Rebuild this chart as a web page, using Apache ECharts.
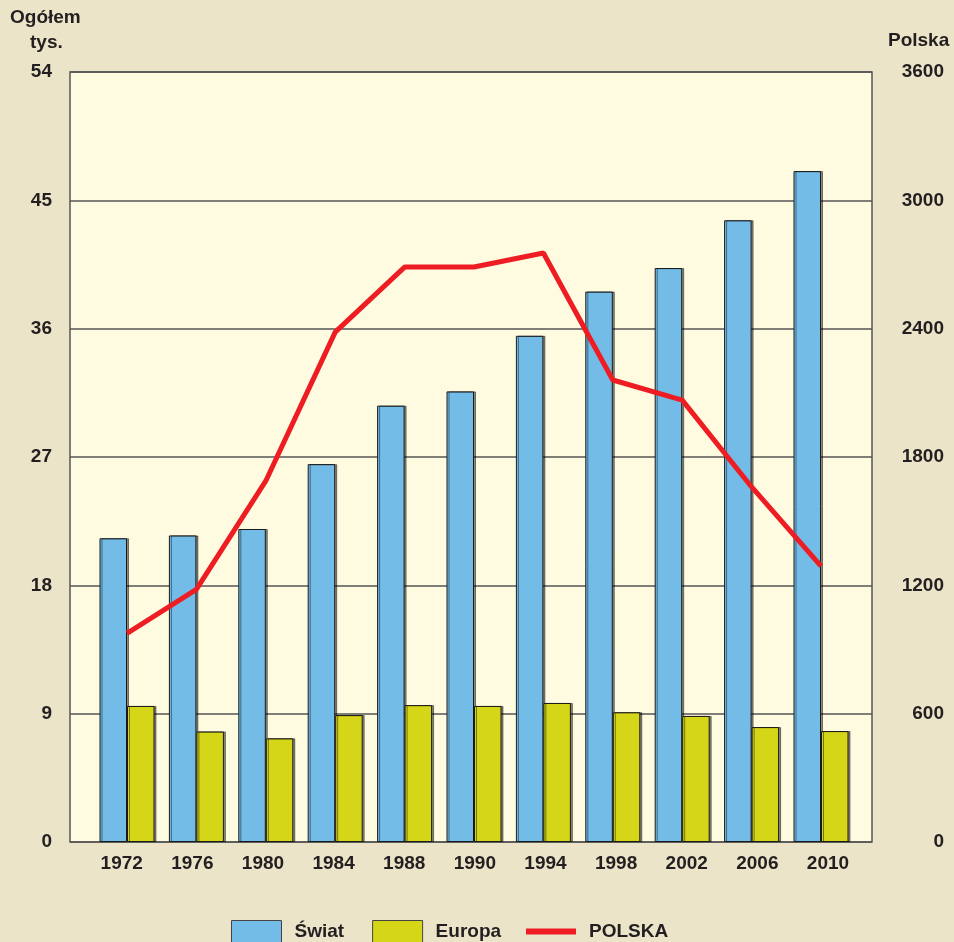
<!DOCTYPE html>
<html>
<head>
<meta charset="utf-8">
<script src="https://cdn.jsdelivr.net/npm/echarts@6/dist/echarts.min.js"></script>
<style>
  html, body { margin: 0; padding: 0; background: #ebe4c9; }
  #chart { width: 954px; height: 942px; }
</style>
</head>
<body>
<div id="chart"></div>
<script>
// dane
var years = ["1972", "1976", "1980", "1984", "1988", "1990", "1994", "1998", "2002", "2006", "2010"]
var swiat = [21.3, 21.5, 21.95, 26.5, 30.6, 31.6, 35.5, 38.6, 40.25, 43.6, 47.05]
var europa = [9.54, 7.75, 7.27, 8.9, 9.6, 9.54, 9.75, 9.1, 8.84, 8.06, 7.78]
var polska = [975, 1181, 1688, 2384, 2688, 2688, 2754, 2160, 2066, 1660, 1290]

var font = "'Liberation Sans', Arial, sans-serif"
var txt = "#231f20"

var myChart = echarts.init(document.getElementById("chart"))

var barStyle = function (color) {
  return {
    color: color,
    borderColor: "#1a1a1a",
    borderWidth: 1,
    shadowColor: "rgba(0,0,0,0.45)",
    shadowOffsetX: 2,
    shadowOffsetY: 0,
    shadowBlur: 0
  }
}

var labelStyle = { fontSize: 19, fontWeight: "bold", color: txt, fontFamily: font }
var legendText = { fontFamily: font, fontSize: 19, fontWeight: "bold", color: txt, padding: [0, 0, 0, 8] }

var option = {
  backgroundColor: "#ebe4c9",
  textStyle: { fontFamily: font },
  graphic: [
    { type: "text", left: 10, top: 8, style: { text: "Ogółem", font: "bold 19px " + font, fill: txt } },
    { type: "text", left: 30, top: 33, style: { text: "tys.", font: "bold 19px " + font, fill: txt } },
    { type: "text", left: 888, top: 31, style: { text: "Polska", font: "bold 19px " + font, fill: txt } }
  ],
  // 0: ramka + osie Y, 1: słupki i linia, 2: podpisy lat
  grid: [
    { left: 70, right: 82, top: 72, bottom: 100, show: true, backgroundColor: "#fefbe0",
      borderColor: "#555", borderWidth: 1.5 },
    { left: 92.3, right: 98.3, top: 72, bottom: 100 },
    { left: 86.4, right: 90.7, top: 72, bottom: 100 }
  ],
  legend: [
    {
      data: ["Świat", "Europa"],
      icon: "rect",
      top: 920,
      left: 231,
      padding: 0,
      itemWidth: 50,
      itemHeight: 22,
      itemGap: 28,
      itemStyle: { borderColor: "#444", borderWidth: 1 },
      textStyle: legendText
    },
    {
      data: ["POLSKA"],
      icon: "rect",
      top: 922,
      left: 526,
      padding: 0,
      itemWidth: 50,
      itemHeight: 6,
      textStyle: legendText
    }
  ],
  xAxis: [
    { gridIndex: 0, type: "value", min: 0, max: 1, show: false },
    { gridIndex: 1, type: "category", data: years, show: false },
    {
      gridIndex: 2,
      type: "category",
      data: years,
      axisLine: { show: false },
      axisTick: { show: false },
      axisLabel: Object.assign({ margin: 12 }, labelStyle)
    }
  ],
  yAxis: [
    {
      gridIndex: 0, type: "value", min: 0, max: 54, interval: 9, position: "left",
      axisLine: { show: false }, axisTick: { show: false },
      splitLine: { lineStyle: { color: "#555", width: 1.5 } },
      axisLabel: Object.assign({ margin: 18 }, labelStyle)
    },
    {
      gridIndex: 0, type: "value", min: 0, max: 3600, interval: 600, position: "right",
      axisLine: { show: false }, axisTick: { show: false }, splitLine: { show: false },
      axisLabel: Object.assign({ margin: 72, align: "right", formatter: (v) => String(v) }, labelStyle)
    },
    { gridIndex: 1, type: "value", min: 0, max: 54, show: false, splitLine: { show: false } },
    { gridIndex: 1, type: "value", min: 0, max: 3600, show: false, splitLine: { show: false } },
    { gridIndex: 2, type: "value", min: 0, max: 1, show: false, splitLine: { show: false } }
  ],
  series: [
    {
      name: "Świat", type: "bar", xAxisIndex: 1, yAxisIndex: 2,
      data: swiat, barWidth: 27.5, barGap: "0%",
      itemStyle: barStyle("#74bce8")
    },
    {
      name: "Europa", type: "bar", xAxisIndex: 1, yAxisIndex: 2,
      data: europa, barWidth: 27.5, barGap: "0%",
      itemStyle: barStyle("#d6d618")
    },
    {
      name: "POLSKA", type: "line", xAxisIndex: 1, yAxisIndex: 3,
      data: polska, symbol: "none", z: 5,
      lineStyle: { color: "#ee1d23", width: 5 },
      itemStyle: { color: "#ee1d23" }
    }
  ]
}

myChart.setOption(option)

window.onresize = () => {
  myChart.resize()
}
</script>
</body>
</html>
